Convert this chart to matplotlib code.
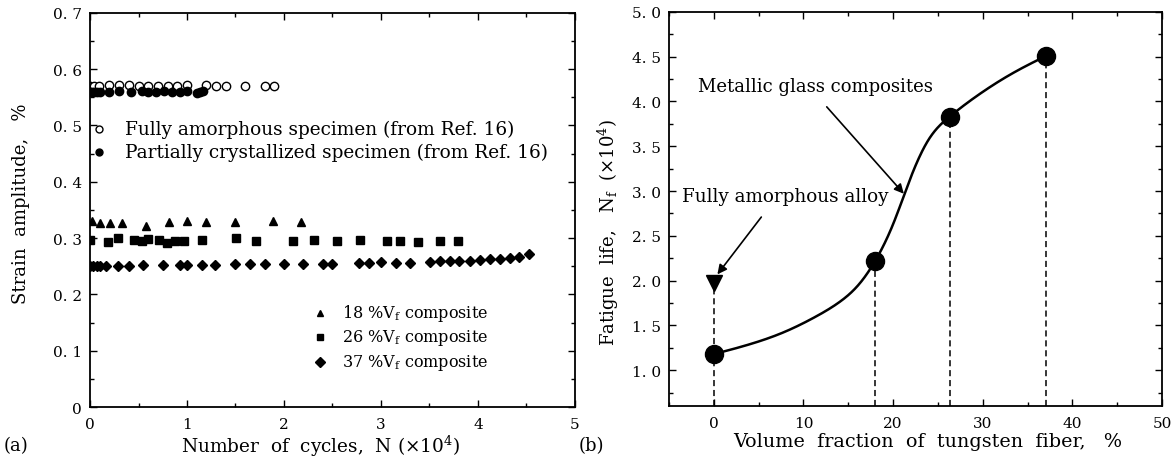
import matplotlib
matplotlib.use("Agg")
import matplotlib.pyplot as plt
import numpy as np
from matplotlib.ticker import MultipleLocator, FuncFormatter

plt.rcParams['font.family'] = ['DejaVu Serif']
plt.rcParams['mathtext.fontset'] = 'dejavuserif'

# ---- panel (a): strain amplitude vs cycles (x1e4) ----
amor_x = [0, 0.04, 0.09, 0.2, 0.3, 0.4, 0.5, 0.6, 0.7, 0.8, 0.9, 1.0, 1.2, 1.3, 1.4, 1.6, 1.8, 1.9]
amor_y = [0.57, 0.57, 0.57, 0.571, 0.571, 0.572, 0.57, 0.57, 0.57, 0.57, 0.57, 0.571,
          0.571, 0.57, 0.57, 0.57, 0.57, 0.57]
part_x = [0, 0.02, 0.045, 0.075, 0.1, 0.2, 0.3, 0.42, 0.54, 0.6, 0.68, 0.76, 0.85, 0.93,
          1.0, 1.1, 1.13, 1.16]
part_y = [0.56, 0.56, 0.56, 0.56, 0.56, 0.56, 0.561, 0.56, 0.561, 0.56, 0.56, 0.561, 0.56,
          0.56, 0.561, 0.558, 0.559, 0.561]
v18_x = [0.02, 0.1, 0.21, 0.33, 0.58, 0.81, 1.0, 1.2, 1.5, 1.89, 2.18]
v18_y = [0.331, 0.326, 0.327, 0.327, 0.322, 0.329, 0.33, 0.328, 0.328, 0.331, 0.328]
v26_x = [0, 0.19, 0.29, 0.45, 0.54, 0.6, 0.71, 0.79, 0.88, 0.97, 1.15, 1.51, 1.71, 2.09,
         2.31, 2.55, 2.78, 3.06, 3.2, 3.38, 3.61, 3.79]
v26_y = [0.296, 0.293, 0.300, 0.297, 0.294, 0.298, 0.297, 0.291, 0.295, 0.295, 0.296,
         0.300, 0.295, 0.294, 0.296, 0.294, 0.297, 0.294, 0.294, 0.293, 0.294, 0.295]
v37_x = [0, 0.03, 0.07, 0.1, 0.16, 0.29, 0.4, 0.55, 0.75, 0.93, 1.0, 1.15, 1.29, 1.5, 1.65,
         1.8, 2.0, 2.2, 2.4, 2.5, 2.77, 2.88, 3.0, 3.16, 3.3, 3.51, 3.61, 3.71, 3.81, 3.92,
         4.02, 4.12, 4.23, 4.33, 4.42, 4.53]
v37_y = [0.25, 0.25, 0.25, 0.25, 0.25, 0.251, 0.251, 0.252, 0.252, 0.253, 0.253, 0.253,
         0.253, 0.254, 0.254, 0.254, 0.254, 0.254, 0.254, 0.254, 0.256, 0.256, 0.257,
         0.256, 0.256, 0.258, 0.259, 0.259, 0.26, 0.26, 0.261, 0.262, 0.263, 0.264,
         0.266, 0.272]

# ---- panel (b): fatigue life vs volume fraction ----
vf = [0, 18, 26.3, 37.1]
life = [1.18, 2.22, 3.83, 4.51]
amor_vf = 0
amor_life = 1.97
# trend curve
curve_x = [0, 4, 7.7, 11.4, 14, 16.2, 18, 20, 22, 24, 26.3, 29.9, 33.6, 37.1]
curve_y = [1.18, 1.29, 1.42, 1.60, 1.76, 1.96, 2.22, 2.63, 3.16, 3.58, 3.83, 4.10, 4.33,
           4.51]


def smooth_line(x, y, n=400):
    # natural cubic spline through the read-off curve points
    x = np.asarray(x, float)
    y = np.asarray(y, float)
    k = len(x)
    h = np.diff(x)
    A = np.zeros((k, k))
    b = np.zeros(k)
    A[0, 0] = A[-1, -1] = 1
    for i in range(1, k - 1):
        A[i, i - 1] = h[i - 1]
        A[i, i] = 2 * (h[i - 1] + h[i])
        A[i, i + 1] = h[i]
        b[i] = 6 * ((y[i + 1] - y[i]) / h[i] - (y[i] - y[i - 1]) / h[i - 1])
    m = np.linalg.solve(A, b)
    xs = np.linspace(x[0], x[-1], n)
    ys = np.empty_like(xs)
    for j, t in enumerate(xs):
        i = min(np.searchsorted(x, t, side='right') - 1, k - 2)
        a, c = x[i], x[i + 1]
        ys[j] = (m[i] * (c - t) ** 3 / (6 * h[i]) + m[i + 1] * (t - a) ** 3 / (6 * h[i])
                 + (y[i] / h[i] - m[i] * h[i] / 6) * (c - t)
                 + (y[i + 1] / h[i] - m[i + 1] * h[i] / 6) * (t - a))
    return xs, ys


def spaced(v, fmt):
    return fmt.format(v).replace('.', '. ')


fig = plt.figure(figsize=(11.71, 4.6), dpi=100)
ax1 = fig.add_axes([0.0769, 0.113, 0.414, 0.857])
ax2 = fig.add_axes([0.5713, 0.115, 0.421, 0.857])

for ax in (ax1, ax2):
    ax.tick_params(which='both', direction='in', top=True, right=True, labelsize=11,
                   width=1.0)
    ax.tick_params(which='major', length=5)
    ax.tick_params(which='minor', length=3)
    ax.tick_params(axis='x', pad=7)
    ax.tick_params(axis='y', pad=6)
    for sp in ax.spines.values():
        sp.set_linewidth(1.3)

# panel (a)
ax1.plot(amor_x, amor_y, 'o', mfc='white', mec='black', mew=1.0, ms=6)
ax1.plot(part_x, part_y, 'o', color='black', ms=6)
ax1.plot(v18_x, v18_y, '^', color='black', ms=6)
ax1.plot(v26_x, v26_y, 's', color='black', ms=5.5)
ax1.plot(v37_x, v37_y, 'D', color='black', ms=5.5)
ax1.set_xlim(0, 5)
ax1.set_ylim(0, 0.7)
ax1.xaxis.set_major_locator(MultipleLocator(1))
ax1.xaxis.set_minor_locator(MultipleLocator(0.5))
ax1.yaxis.set_major_locator(MultipleLocator(0.1))
ax1.yaxis.set_minor_locator(MultipleLocator(0.05))
ax1.yaxis.set_major_formatter(FuncFormatter(
    lambda v, p: '0' if abs(v) < 1e-9 else spaced(v, '{:.1f}')))
ax1.set_xlabel('Number  of  cycles,  N (×10$^4$)', fontsize=13.3)
ax1.xaxis.set_label_coords(0.476, -0.066)
ax1.set_ylabel('Strain  amplitude,   %', fontsize=13)
ax1.yaxis.set_label_coords(-0.124, 0.519)

ax1.plot([0.09], [0.494], 'o', mfc='white', mec='black', mew=1.0, ms=5)
ax1.text(0.36, 0.494, 'Fully amorphous specimen (from Ref. 16)', fontsize=13.3,
         va='center')
ax1.plot([0.09], [0.453], 'o', color='black', ms=5)
ax1.text(0.36, 0.453, 'Partially crystallized specimen (from Ref. 16)', fontsize=13.3,
         va='center')

leg_y = [0.167, 0.124, 0.08]
leg_m = ['^', 's', 'D']
leg_t = ['18 %V$_\\mathrm{f}$ composite', '26 %V$_\\mathrm{f}$ composite',
         '37 %V$_\\mathrm{f}$ composite']
for yy, mk, tt in zip(leg_y, leg_m, leg_t):
    ax1.plot([2.37], [yy], mk, color='black', ms=5)
    ax1.text(2.6, yy, tt, fontsize=11.5, va='center')

# panel (b)
ymin = 0.6
xs, ys = smooth_line(curve_x, curve_y)
ax2.plot(xs, ys, '-', color='black', lw=1.8)
for xv, yv in zip(vf, life):
    ax2.plot([xv, xv], [ymin, yv], '--', color='black', lw=1.1, dashes=(4, 2.5))
ax2.plot([amor_vf, amor_vf], [life[0], amor_life], '--', color='black', lw=1.1,
         dashes=(4, 2.5))
ax2.plot(vf, life, 'o', color='black', ms=13)
ax2.plot([amor_vf], [amor_life], 'v', color='black', ms=12)
ax2.set_xlim(-5, 50)
ax2.set_ylim(ymin, 5.0)
ax2.xaxis.set_major_locator(MultipleLocator(10))
ax2.xaxis.set_minor_locator(MultipleLocator(5))
ax2.yaxis.set_major_locator(MultipleLocator(0.5))
ax2.yaxis.set_minor_locator(MultipleLocator(0.25))
ax2.yaxis.set_major_formatter(FuncFormatter(lambda v, p: spaced(v, '{:.1f}')))
ax2.xaxis.set_major_formatter(FuncFormatter(lambda v, p: '' if v < 0 else '%d' % v))
ax2.set_xlabel('Volume  fraction  of  tungsten  fiber,   %', fontsize=13.8)
ax2.xaxis.set_label_coords(0.525, -0.066)
ax2.set_ylabel('Fatigue  life,   N$_\\mathrm{f}$  (×10$^4$)', fontsize=13)
ax2.yaxis.set_label_coords(-0.097, 0.444)

ax2.annotate('', xy=(0.4, 2.07), xytext=(5.3, 2.71),
             arrowprops=dict(arrowstyle='-|>', color='black', lw=1.2,
                             mutation_scale=14, shrinkA=0, shrinkB=0))
ax2.text(-3.6, 2.95, 'Fully amorphous alloy', fontsize=13.2, va='center', ha='left')
ax2.annotate('', xy=(21.2, 2.97), xytext=(12.6, 3.94),
             arrowprops=dict(arrowstyle='-|>', color='black', lw=1.2,
                             mutation_scale=14, shrinkA=0, shrinkB=0))
ax2.text(-1.8, 4.17, 'Metallic glass composites', fontsize=13, va='center', ha='left')

fig.text(0.003, 0.02, '(a)', fontsize=13)
fig.text(0.494, 0.02, '(b)', fontsize=13)

fig.savefig('out.png', dpi=100)
